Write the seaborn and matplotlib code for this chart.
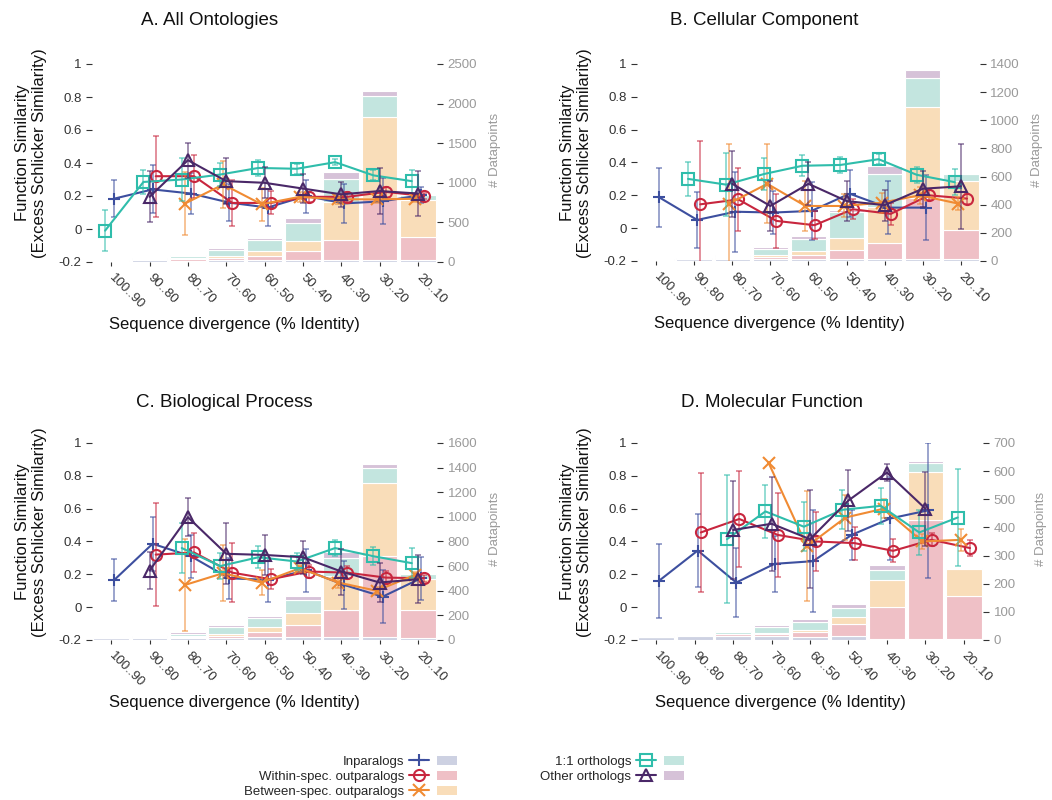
import numpy as np
import pandas as pd
import seaborn as sns
import matplotlib.pyplot as plt
from matplotlib.lines import Line2D
from matplotlib.patches import Patch
from matplotlib.legend_handler import HandlerTuple

nan = np.nan

categories = ['100..90', '90..80', '80..70', '70..60', '60..50', '50..40', '40..30', '30..20', '20..10']
groups = ['Inparalogs', 'Within-spec. outparalogs', 'Between-spec. outparalogs', '1:1 orthologs', 'Other orthologs']

# rows follow `groups`, columns follow `categories`
# A. All Ontologies
sim_a = [[0.184, 0.24, 0.215, 0.16, 0.13, 0.20, 0.155, 0.168, 0.205],
         [nan, 0.32, 0.32, 0.158, 0.158, 0.195, 0.195, 0.225, 0.20],
         [nan, nan, 0.154, 0.27, 0.15, 0.195, 0.18, 0.18, 0.183],
         [-0.01, 0.285, 0.30, 0.33, 0.37, 0.365, 0.405, 0.325, 0.29],
         [nan, 0.195, 0.417, 0.29, 0.28, 0.245, 0.21, 0.23, 0.215]]
err_a = [[0.11, 0.145, 0.125, 0.11, 0.11, 0.10, 0.12, 0.14, 0.05],
         [nan, 0.245, 0.13, 0.14, 0.07, 0.03, 0.03, 0.03, 0.02],
         [nan, nan, 0.19, 0.145, 0.10, 0.03, 0.03, 0.02, 0.02],
         [0.125, 0.075, 0.13, 0.07, 0.05, 0.03, 0.02, 0.03, 0.07],
         [nan, 0.155, 0.105, 0.14, 0.095, 0.09, 0.075, 0.14, 0.135]]
cnt_a = [[18, 25, 18, 25, 22, 25, 25, 25, 25],
         [2, 8, 20, 25, 58, 111, 259, 780, 289],
         [1, 3, 12, 30, 63, 135, 474, 1025, 466],
         [2, 5, 23, 75, 135, 225, 289, 272, 63],
         [3, 9, 17, 26, 27, 59, 84, 59, 5]]

# B. Cellular Component
sim_b = [[0.188, 0.05, 0.10, 0.095, 0.105, 0.21, 0.125, 0.125, nan],
         [nan, 0.145, 0.175, 0.044, 0.018, 0.115, 0.087, 0.20, 0.18],
         [nan, nan, 0.15, 0.27, 0.135, 0.135, 0.155, 0.20, 0.15],
         [nan, 0.30, 0.265, 0.33, 0.38, 0.385, 0.42, 0.325, 0.28],
         [nan, nan, 0.27, 0.135, 0.27, 0.165, 0.14, 0.24, 0.255]]
err_b = [[0.18, 0.17, 0.245, 0.13, 0.175, 0.145, 0.16, 0.20, nan],
         [nan, 0.385, 0.19, 0.165, 0.085, 0.06, 0.065, 0.03, 0.03],
         [nan, nan, 0.36, 0.24, 0.155, 0.07, 0.06, 0.05, 0.04],
         [nan, 0.105, 0.19, 0.10, 0.065, 0.05, 0.03, 0.05, 0.08],
         [nan, nan, 0.20, 0.15, 0.13, 0.12, 0.095, 0.11, 0.26]]
cnt_b = [[10, 12, 12, 12, 12, 12, 12, 12, 12],
         [0, 2, 8, 16, 28, 64, 116, 438, 211],
         [0, 1, 6, 13, 31, 90, 256, 646, 346],
         [0, 2, 10, 45, 88, 183, 233, 206, 52],
         [2, 4, 9, 14, 17, 16, 57, 55, 0]]

# C. Biological Process
sim_c = [[0.166, 0.386, 0.31, 0.176, 0.166, 0.225, 0.135, 0.064, 0.176],
         [nan, 0.32, 0.333, 0.21, 0.17, 0.217, 0.21, 0.18, 0.176],
         [nan, nan, 0.135, 0.207, 0.15, 0.237, 0.15, 0.10, 0.196],
         [nan, nan, 0.36, 0.25, 0.304, 0.278, 0.36, 0.31, 0.268],
         [nan, 0.223, 0.548, 0.325, 0.318, 0.304, 0.217, 0.15, 0.17]]
err_c = [[0.13, 0.165, 0.13, 0.125, 0.135, 0.13, 0.145, 0.16, 0.13],
         [nan, 0.315, 0.12, 0.18, 0.06, 0.04, 0.04, 0.04, 0.02],
         [nan, nan, 0.28, 0.17, 0.075, 0.02, 0.035, 0.02, 0.02],
         [nan, nan, 0.15, 0.08, 0.068, 0.05, 0.05, 0.055, 0.09],
         [nan, 0.11, 0.117, 0.185, 0.12, 0.10, 0.14, 0.117, 0.145]]
cnt_c = [[13, 14, 14, 14, 22, 25, 25, 25, 15],
         [0, 6, 14, 19, 43, 97, 218, 655, 228],
         [0, 3, 8, 16, 43, 97, 277, 596, 254],
         [0, 4, 14, 54, 68, 105, 148, 124, 41],
         [3, 6, 12, 16, 19, 30, 46, 30, 2]]

# D. Molecular Function
sim_d = [[0.162, 0.345, 0.15, 0.264, 0.28, 0.44, 0.54, 0.59, nan],
         [nan, 0.455, 0.537, 0.44, 0.40, 0.39, 0.343, 0.41, 0.36],
         [nan, nan, nan, 0.88, 0.37, 0.546, 0.60, 0.40, 0.41],
         [nan, nan, 0.414, 0.583, 0.49, 0.593, 0.617, 0.455, 0.546],
         [nan, nan, 0.47, 0.508, 0.414, 0.65, 0.82, 0.60, nan]]
err_d = [[0.225, 0.225, 0.21, 0.17, 0.31, 0.15, 0.25, 0.41, nan],
         [nan, 0.36, 0.295, 0.255, 0.18, 0.10, 0.07, 0.04, 0.05],
         [nan, nan, nan, nan, 0.335, 0.135, 0.06, 0.045, 0.065],
         [nan, nan, 0.39, 0.16, 0.15, 0.12, 0.11, 0.135, 0.295],
         [nan, nan, 0.30, 0.285, 0.30, 0.185, 0.05, 0.225, nan]]
cnt_d = [[12, 14, 14, 14, 12, 14, 3, 3, 2],
         [0, 5, 6, 8, 18, 44, 115, 425, 154],
         [0, 0, 3, 4, 6, 24, 94, 168, 95],
         [0, 0, 4, 20, 29, 33, 35, 33, 5],
         [2, 3, 4, 6, 9, 14, 18, 6, 0]]

line_colors = ['#3d4f9f', '#c8263e', '#f08b33', '#2fbdab', '#4a2868']
bar_colors = ['#cdd1e2', '#efc0c6', '#f9ddb9', '#c3e5df', '#d6c2d8']
markers = ['+', 'o', 'x', 's', '^']
offsets = [0.08, 0.16, -0.08, -0.16, 0.0]

sns.set_style('ticks')
plt.rcParams['font.family'] = ['Liberation Sans', 'DejaVu Sans']

fig = plt.figure(figsize=(10.52, 8), dpi=100)

panels = [
    ('A. All Ontologies', sim_a, err_a, cnt_a, 2500, 500, [0.0875, 0.6725, 0.328, 0.2475], (0.1996, 0.974)),
    ('B. Cellular Component', sim_b, err_b, cnt_b, 1400, 200, [0.6055, 0.6738, 0.326, 0.2462], (0.7262, 0.974)),
    ('C. Biological Process', sim_c, err_c, cnt_c, 1600, 200, [0.0875, 0.2, 0.328, 0.2463], (0.2129, 0.497)),
    ('D. Molecular Function', sim_d, err_d, cnt_d, 700, 100, [0.6055, 0.2, 0.329, 0.2463], (0.7338, 0.497)),
]

xpos = np.arange(len(categories))

for title, sims, errs, cnts, ymax2, step2, rect, tpos in panels:
    ax = fig.add_axes(rect)
    ax2 = ax.twinx()

    df = pd.DataFrame({
        'pos': np.tile(xpos, len(groups)),
        'group': np.repeat(groups, len(categories)),
        'n': np.ravel(cnts),
    })
    sns.histplot(data=df, x='pos', hue='group', weights='n', hue_order=groups[::-1],
                 palette=dict(zip(groups, bar_colors)), multiple='stack', discrete=True,
                 shrink=0.93, alpha=1, edgecolor='white', linewidth=0.8, legend=False, ax=ax2)

    # lines on top of the count bars
    ax.set_zorder(ax2.get_zorder() + 1)
    ax.patch.set_visible(False)

    for k in range(len(groups)):
        xs = xpos + offsets[k]
        ys = np.array(sims[k], dtype=float)
        es = np.array(errs[k], dtype=float)
        ax.errorbar(xs, ys, yerr=es, fmt='none', ecolor=line_colors[k], alpha=0.6,
                    capsize=2, elinewidth=1.2, capthick=1.2)
        sns.lineplot(x=xs, y=ys, ax=ax, color=line_colors[k], marker=markers[k], markersize=8,
                     markerfacecolor='none', markeredgecolor=line_colors[k], markeredgewidth=1.5,
                     linewidth=1.5, errorbar=None)

    ax.set_xlim(-0.5, 8.5)
    ax.set_ylim(-0.2, 1)
    ax2.set_ylim(0, ymax2)
    ax.set_yticks([-0.2, 0, 0.2, 0.4, 0.6, 0.8, 1])
    ax.set_yticklabels(['-0.2', '0', '0.2', '0.4', '0.6', '0.8', '1'])
    ax2.set_yticks(np.arange(0, ymax2 + 1, step2))
    ax.set_xticks(xpos)
    ax.set_xticklabels(categories, rotation=-45, ha='left', va='center', rotation_mode='anchor')

    for s in ax.spines.values():
        s.set_visible(False)
    for s in ax2.spines.values():
        s.set_visible(False)

    ax.tick_params(axis='both', colors='#333333', labelsize=9.5, length=4, width=0.8)
    ax.tick_params(axis='x', length=3, pad=7)
    ax2.tick_params(axis='y', colors='#333333', labelcolor='#9a9a9a', labelsize=9.5, length=4, width=0.8)

    ax.set_ylabel('Function Similarity\n(Excess Schlicker Similarity)', fontsize=12, color='#111111')
    ax.yaxis.set_label_coords(-0.13, 0.55)
    ax.set_xlabel('Sequence divergence (% Identity)', fontsize=12, color='#111111')
    ax.xaxis.set_label_coords(0.414, -0.28)
    ax2.set_ylabel('# Datapoints', fontsize=9.5, color='#9a9a9a')
    ax2.yaxis.set_label_coords(1.15, 0.565)

    fig.text(tpos[0], tpos[1], title, ha='center', va='center', fontsize=13.5, color='#111111')

handles = []
for k in range(len(groups)):
    ln = Line2D([], [], color=line_colors[k], marker=markers[k], markersize=8,
                markerfacecolor='none', markeredgecolor=line_colors[k], markeredgewidth=1.5, linewidth=1.5)
    pt = Patch(facecolor=bar_colors[k], edgecolor='none')
    handles.append((ln, pt))

fig.legend(handles, groups, handler_map={tuple: HandlerTuple(ndivide=None, pad=0.6)},
           ncol=2, markerfirst=False, frameon=False, loc='center', bbox_to_anchor=(0.441, 0.029),
           fontsize=9.5, handlelength=3.6, columnspacing=6.3, labelspacing=0.2, handletextpad=0.4)

fig.savefig('out.png', dpi=100)
